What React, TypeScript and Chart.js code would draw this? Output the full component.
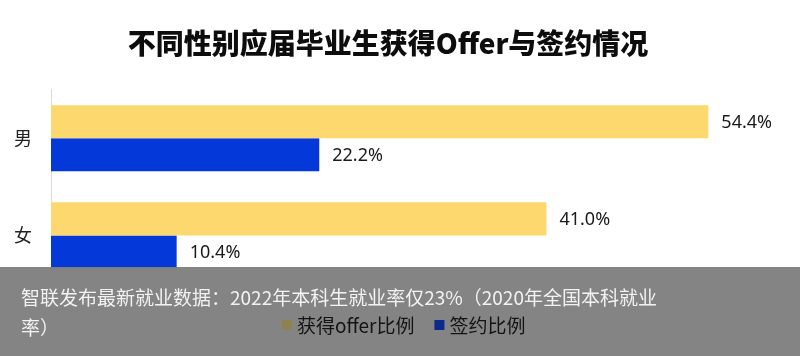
import React, { useEffect, useRef } from "react";
import { Chart, registerables } from "chart.js";

Chart.register(...registerables);

const categories = ["男", "女"];
const seriesNames = ["获得offer比例", "签约比例"];
const offerValues = [54.4, 41.0];
const signedValues = [22.2, 10.4];
const titleText = "不同性别应届毕业生获得Offer与签约情况";
const captionLines = [
  "智联发布最新就业数据：2022年本科生就业率仅23%（2020年全国本科就业",
  "率）",
];

const COLORS = ["#FDD86E", "#0538D9"];
const SWATCH = ["#8c8350", "#0b2a8c"];
const CJK = '"Noto Sans CJK SC", "Noto Sans", sans-serif';

const labelsPlugin = {
  id: "valueLabels",
  afterDatasetsDraw(chart: any) {
    const ctx = chart.ctx;
    ctx.save();
    ctx.font = '18px "Noto Sans", "Noto Sans CJK SC", sans-serif';
    ctx.fillStyle = "#1a1a1a";
    ctx.textAlign = "left";
    ctx.textBaseline = "middle";
    chart.data.datasets.forEach((ds: any, di: number) => {
      const meta = chart.getDatasetMeta(di);
      meta.data.forEach((bar: any, i: number) => {
        ctx.fillText(ds.data[i].toFixed(1) + "%", bar.x + 13, bar.y + 1);
      });
    });
    ctx.restore();
  },
};

const overlayPlugin = {
  id: "overlay",
  afterDraw(chart: any) {
    const ctx = chart.ctx;
    const w = chart.width;
    const h = chart.height;
    ctx.save();
    ctx.fillStyle = "rgba(127,127,127,0.96)";
    ctx.fillRect(0, 267, w, h - 267);
    ctx.font = "19px " + CJK;
    ctx.fillStyle = "#f2f2f2";
    ctx.textAlign = "left";
    ctx.textBaseline = "middle";
    ctx.fillText(captionLines[0], 21, 298);
    ctx.fillText(captionLines[1], 21, 328);
    // legend
    ctx.font = "19px " + CJK;
    let x = 282;
    chart.data.datasets.forEach((ds: any, di: number) => {
      ctx.fillStyle = SWATCH[di];
      ctx.fillRect(x, 320, 10, 10);
      ctx.fillStyle = "#141414";
      ctx.fillText(ds.label, x + 15, 326);
      x += 15 + ctx.measureText(ds.label).width + 20;
    });
    ctx.restore();
  },
};

export default function App() {
  const ref = useRef<HTMLCanvasElement>(null);
  useEffect(() => {
    if (!ref.current) return;
    const chart = new Chart(ref.current, {
      type: "bar",
      data: {
        labels: categories,
        datasets: [
          {
            label: seriesNames[0],
            data: offerValues,
            backgroundColor: COLORS[0],
            barPercentage: 1,
            categoryPercentage: 0.68,
          },
          {
            label: seriesNames[1],
            data: signedValues,
            backgroundColor: COLORS[1],
            barPercentage: 1,
            categoryPercentage: 0.68,
          },
        ],
      },
      options: {
        indexAxis: "y",
        animation: false,
        responsive: false,
        layout: { padding: { left: 0, right: 24, top: 0, bottom: 72 } },
        plugins: {
          legend: { display: false },
          tooltip: { enabled: false },
          title: {
            display: true,
            text: titleText,
            color: "#0d0d0d",
            font: { family: CJK, size: 28, weight: "900" },
            padding: { top: 27, bottom: 29 },
          },
        },
        scales: {
          x: {
            display: false,
            min: 0,
            max: 60,
          },
          y: {
            grid: { display: false, drawTicks: false },
            border: { display: true, color: "#d9d9d9", width: 1 },
            ticks: {
              color: "#222222",
              font: { family: CJK, size: 18 },
              padding: 19,
            },
            afterFit(scale: any) {
              scale.width = 51;
            },
          },
        },
      },
      plugins: [labelsPlugin, overlayPlugin],
    });
    return () => chart.destroy();
  }, []);
  return (
    <div style={{ position: "fixed", left: 0, top: 0, width: 800, height: 356, background: "#ffffff" }}>
      <canvas ref={ref} width={800} height={356} style={{ display: "block" }} />
    </div>
  );
}
